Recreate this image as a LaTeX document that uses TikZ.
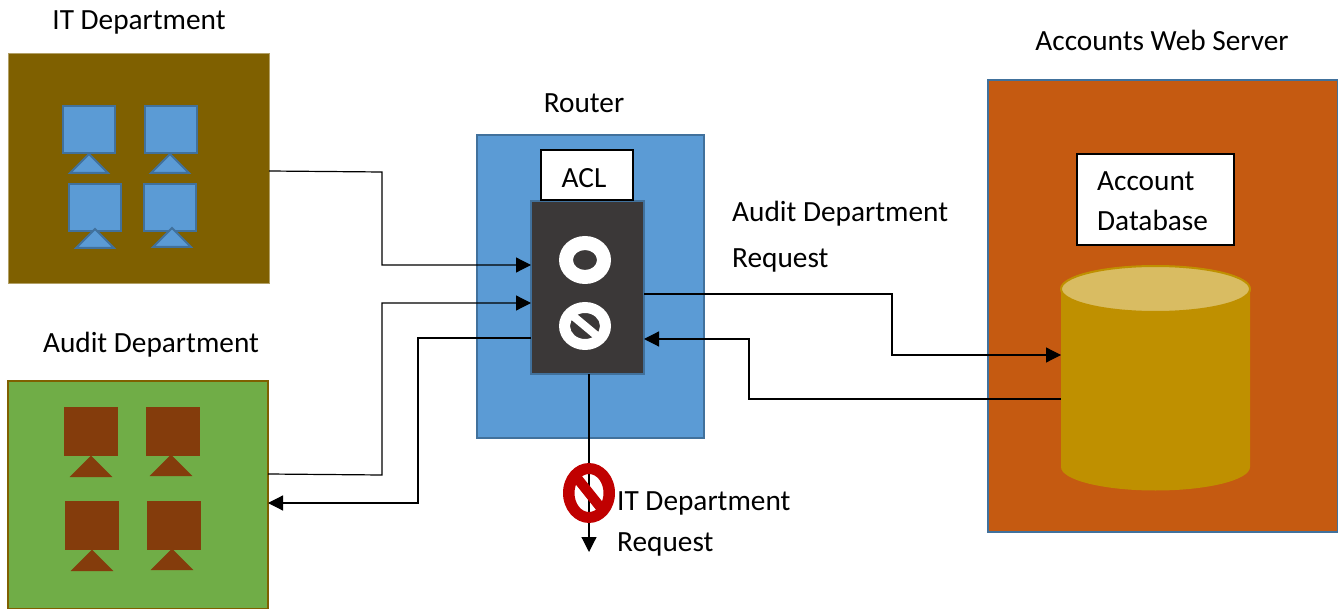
\documentclass[tikz,border=0pt]{standalone}
\usepackage{fontspec}
\setmainfont{Carlito}
\usepackage{xcolor}
\usetikzlibrary{arrows.meta}
\definecolor{itbrown}{HTML}{7F6000}
\definecolor{auditgreen}{HTML}{70AD47}
\definecolor{paneblue}{HTML}{5B9BD5}
\definecolor{edgeblue}{HTML}{41719C}
\definecolor{darkpanel}{HTML}{3B3838}
\definecolor{rust}{HTML}{843C0C}
\definecolor{serverorange}{HTML}{C55A11}
\definecolor{dbgold}{HTML}{BF9000}
\definecolor{dbtop}{HTML}{D9BC62}
\definecolor{stopred}{HTML}{C00000}
\tikzset{
  box/.style={rectangle, anchor=north west, inner sep=0pt, outer sep=0pt},
  lab/.style={text=black, font=\fontsize{29.3}{33}\selectfont, inner sep=0pt},
  leftlab/.style={lab, anchor=west},
  whitebox/.style={box, fill=white, draw=black, line width=1.2pt},
  wire/.style={draw=black, line width=1.2pt},
  arrowwire/.style={wire, -{Triangle[length=15pt,width=15pt]}},
}
% monitor: centre of screen, apex of stand
\newcommand{\monitor}[6]{
  \draw[draw=#5, fill=#6, line width=2pt] (#1-26,#2-23.5) rectangle (#1+26,#2+23.5);
  \draw[draw=#5, fill=#6, line width=2pt, line join=miter] (#3,#4) -- (#3+19,#4+19) -- (#3-19,#4+19) -- cycle;
}
% ring: centre, outer y radius, hole x radius, colour, hole y radius
\newcommand{\ringsign}[6]{
  \fill[#5, even odd rule] (#1,#2) circle[x radius=26, y radius=#3] (#1,#2) circle[x radius=#4, y radius=#6];
}
\begin{document}
\begin{tikzpicture}[x=1pt,y=-1pt]
  \useasboundingbox (0,0) rectangle (1338,609);

  % departments
  \node[box, fill=itbrown, draw=itbrown!60, line width=0.6pt, minimum width=261pt, minimum height=230pt] (itdept) at (8,53) {};
  \node[box, fill=auditgreen, draw=itbrown, line width=1.6pt, minimum width=260pt, minimum height=228pt] (auditdept) at (8,381) {};
  \foreach \sx/\sy/\tx/\ty in {89/129.5/89/154, 170.5/129.5/170/154, 94.5/207.5/95/229, 170/208/172/228}
    \monitor{\sx}{\sy}{\tx}{\ty}{edgeblue}{paneblue};
  \foreach \sx/\sy/\tx/\ty in {90.5/431/91/457, 172.5/431/171/456, 91.5/525/92/551, 173.5/525/172/550}
    \monitor{\sx}{\sy}{\tx}{\ty}{rust}{rust};

  % router
  \node[box, fill=paneblue, draw=edgeblue, line width=2pt, minimum width=227pt, minimum height=303pt] (router) at (477,135) {};
  \node[box, fill=darkpanel, draw=edgeblue, line width=2pt, minimum width=113pt, minimum height=173pt] (filter) at (531,201) {};
  \node[whitebox, minimum width=92pt, minimum height=50pt] (aclbox) at (541,150) {};
  \ringsign{585}{260}{24}{12}{white}{10}
  \ringsign{585}{326}{24}{15}{white}{13}
  \draw[white, line width=8pt] (573,316) -- (597,336);

  % server
  \node[box, fill=serverorange, draw=edgeblue, line width=2pt, minimum width=350pt, minimum height=452pt] (server) at (988,80) {};
  \node[whitebox, minimum width=157pt, minimum height=91pt] (dbbox) at (1077,154) {};
  \fill[dbgold] (1061,289) -- (1061,467) arc[start angle=180, end angle=360, x radius=94.5, y radius=-23.5] -- (1250,289) -- cycle;
  \draw[fill=dbtop, draw=dbgold, line width=2pt] (1155.5,289) circle[x radius=94.5, y radius=23];
  \coordinate (dbin) at (1061,355);
  \coordinate (dbout) at (1061,399);

  % labels
  \node[lab] (itlabel) at (139,22) {IT Department};
  \node[lab] (auditlabel) at (151,345) {Audit Department};
  \node[lab] (routerlabel) at (584,103.5) {Router};
  \node[lab] (acllabel) at (584,178.5) {ACL};
  \node[lab] (serverlabel) at (1162,40) {Accounts Web Server};
  \node[leftlab] (dbone) at (1097,181) {Account};
  \node[leftlab] (dbtwo) at (1097,220) {Database};
  \node[leftlab] (reqone) at (732,214) {Audit Department};
  \node[leftlab] (reqtwo) at (732,260) {Request};
  \node[leftlab] (denyone) at (617,503) {IT Department};
  \node[leftlab] (denytwo) at (617,544) {Request};

  % connectors
  \coordinate (itout) at (269,171);
  \coordinate (auditout) at (268,474);
  \coordinate (auditin) at (268,503);
  \coordinate (filterinone) at (531,265);
  \coordinate (filterintwo) at (531,303);
  \coordinate (filterback) at (531,338);
  \coordinate (filterout) at (644,294);
  \coordinate (filterret) at (644,339);
  \coordinate (denyend) at (589,552);
  \draw[arrowwire] (itout) -- (382,172) -- (382,265) -- (filterinone);
  \draw[arrowwire] (auditout) -- (382,475) -- (382,303) -- (filterintwo);
  \draw[arrowwire] (filterback) -- (418,338) -- (418,503) -- (auditin);
  \draw[arrowwire] (filterout) -- (892,294) -- (892,355) -- (dbin);
  \draw[arrowwire] (dbout) -- (749,399) -- (749,339) -- (filterret);
  \draw[arrowwire] (589,374) -- (denyend);

  % blocked sign
  \ringsign{589}{493}{30}{14.5}{stopred}{19}
  \draw[stopred, line width=10pt] (577,478) -- (601,508);
\end{tikzpicture}
\end{document}
